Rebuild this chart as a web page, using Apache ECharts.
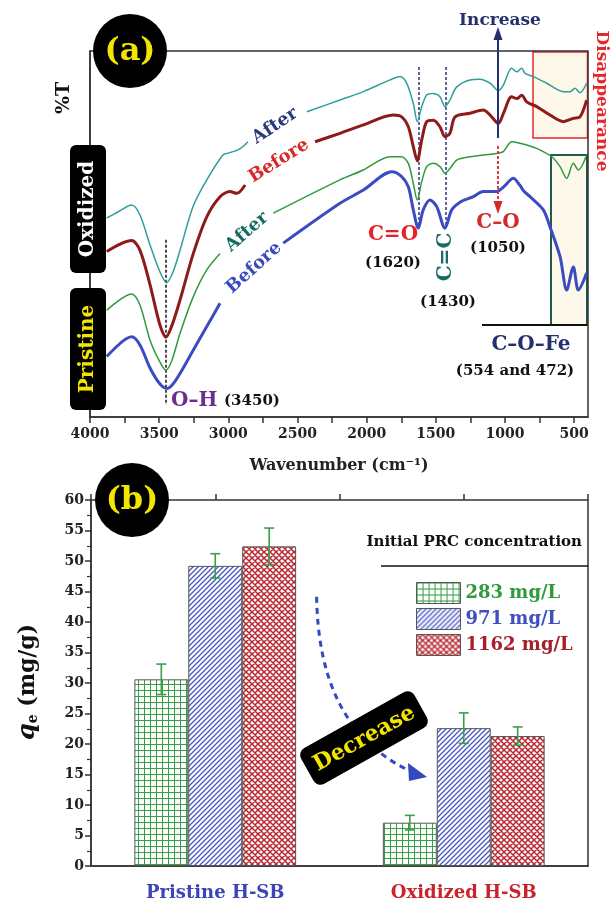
<!DOCTYPE html>
<html>
<head>
<meta charset="utf-8">
<script src="https://cdn.jsdelivr.net/npm/echarts@6/dist/echarts.min.js"></script>
<style>
  html, body { margin: 0; padding: 0; background: #fff; }
  #chart { width: 613px; height: 904px; }
</style>
</head>
<body>
<div id="chart"></div>
<script>
// ---------- (a) FTIR spectra: wavenumber (cm-1) and offset %T ----------
// null marks the break left in each trace for its inline label
const oxAfterWn = [3879,3798,3699,3639,3566,3494,3446,3400,3349,3255,3156,3039,3002,2966,2930,2894,2858,2650,2433,2193,2024,1831,1759,1711,1663,1634,1602,1566,1518,1470,1434,1398,1349,1253,1181,1108,1048,1012,952,915,879,855,795,699,578,530,494,458,410];
const oxAfterT  = [54.4,56.0,57.9,55.2,47.0,39.6,36.7,39.6,45.6,57.5,64.8,71.6,72.1,72.5,73.0,73.9,75.2,null,83.4,86.6,88.9,92.1,93.0,91.2,85.7,80.7,84.8,88.0,88.4,87.5,84.8,86.6,90.2,92.1,92.3,91.2,89.2,90.7,95.3,94.3,95.3,93.9,93.0,91.2,88.9,88.9,89.8,88.6,91.2];

const oxBeforeWn = [3879,3699,3639,3566,3494,3451,3407,3349,3253,3156,3060,2988,2939,2879,2620,2373,2193,2024,1807,1747,1699,1663,1634,1602,1566,1518,1470,1434,1398,1361,1253,1157,1108,1048,1012,952,915,879,843,771,675,578,506,458,410];
const oxBeforeT  = [45.2,48.2,45.6,36.1,25.1,21.8,25.1,32.0,44.7,54.7,60.2,61.6,61.1,63.4,null,75.2,77.5,79.8,82.5,82.0,79.3,73.9,70.0,75.7,80.7,81.1,79.3,76.6,77.5,82.0,83.0,83.9,82.5,80.2,82.9,87.5,87.0,87.9,86.1,84.8,82.5,80.7,81.6,82.0,86.6];

const prAfterWn = [3879,3699,3639,3566,3494,3451,3407,3349,3253,3156,3060,2870,2675,2193,2024,1831,1747,1699,1663,1634,1602,1566,1518,1470,1434,1398,1349,1253,1060,1012,952,892,843,771,662,602,554,506,470,410];
const prAfterT  = [29.2,33.6,30.6,21.0,15.0,12.8,15.6,22.9,32.9,40.2,44.7,null,55.7,64.8,67.5,71.1,71.1,69.3,63.8,59.3,64.3,68.4,69.3,68.4,66.6,67.9,70.2,71.1,72.0,72.5,75.2,74.8,74.3,73.4,71.1,68.4,65.2,69.3,67.5,71.6];

const prBeforeWn = [3879,3699,3639,3566,3494,3441,3400,3349,3253,3156,3060,2830,2603,2193,2024,1819,1747,1699,1663,1627,1591,1542,1494,1434,1385,1325,1229,1157,1060,1012,940,892,868,819,723,675,602,554,506,470,410];
const prBeforeT  = [16.5,21.9,19.7,13.4,9.0,7.8,9.0,11.9,18.3,24.7,31.1,null,47.5,58.4,62.0,67.0,65.7,62.9,56.6,51.6,56.6,59.3,57.5,51.6,56.6,58.7,60.2,61.6,61.6,62.8,65.2,63.3,61.9,60.2,56.6,52.0,43.8,34.7,41.0,34.7,39.3];

const wnTickValues  = [500,750,1000,1250,1500,1750,2000,2250,2500,2750,3000,3250,3500,3750,4000];
const wnLabelValues = [500,1000,1500,2000,2500,3000,3500,4000];

// ---------- (b) adsorption capacity qe (mg/g) ----------
const sampleNames = ['Pristine H-SB', 'Oxidized H-SB'];
const concNames   = ['283 mg/L', '971 mg/L', '1162 mg/L'];
const qe283  = [30.6, 7.1];
const qe971  = [49.2, 22.6];
const qe1162 = [52.4, 21.3];
const err283  = [2.5, 1.2];
const err971  = [2.0, 2.5];
const err1162 = [3.0, 1.5];

// ---------- styling ----------
const SERIF = '"DejaVu Serif", "Liberation Serif", serif';
const BAR_FRAC = 0.217;

function pairUp(xs, ys) {
  return xs.map((x, i) => [x, ys[i] === null ? '-' : ys[i]]);
}

function makePattern(kind) {
  const c = document.createElement('canvas');
  const ctx = c.getContext('2d');
  let s;
  if (kind === 'grid') {
    s = 6; c.width = c.height = s;
    ctx.fillStyle = '#fff'; ctx.fillRect(0, 0, s, s);
    ctx.strokeStyle = '#34a043'; ctx.lineWidth = 1;
    ctx.beginPath();
    ctx.moveTo(0.5, 0); ctx.lineTo(0.5, s);
    ctx.moveTo(0, 0.5); ctx.lineTo(s, 0.5);
    ctx.stroke();
  } else if (kind === 'diag') {
    s = 5; c.width = c.height = s;
    ctx.fillStyle = '#fff'; ctx.fillRect(0, 0, s, s);
    ctx.strokeStyle = '#4656c4'; ctx.lineWidth = 1.3;
    ctx.beginPath();
    ctx.moveTo(0, s); ctx.lineTo(s, 0);
    ctx.moveTo(-1, 1); ctx.lineTo(1, -1);
    ctx.moveTo(s - 1, s + 1); ctx.lineTo(s + 1, s - 1);
    ctx.stroke();
  } else {
    s = 6; c.width = c.height = s;
    ctx.fillStyle = '#fff'; ctx.fillRect(0, 0, s, s);
    ctx.strokeStyle = '#b8262f'; ctx.lineWidth = 1.5;
    ctx.beginPath();
    ctx.moveTo(0, s); ctx.lineTo(s, 0);
    ctx.moveTo(-1, 1); ctx.lineTo(1, -1);
    ctx.moveTo(s - 1, s + 1); ctx.lineTo(s + 1, s - 1);
    ctx.moveTo(0, 0); ctx.lineTo(s, s);
    ctx.moveTo(-1, s - 1); ctx.lineTo(1, s + 1);
    ctx.moveTo(s - 1, -1); ctx.lineTo(s + 1, 1);
    ctx.stroke();
  }
  return { image: c, repeat: 'repeat' };
}

const patterns = [makePattern('grid'), makePattern('diag'), makePattern('cross')];
const legendColors = ['#2f9a3e', '#3f4fbf', '#a5202a'];

function txt(x, y, text, color, size, rotDeg, extra) {
  return Object.assign({
    type: 'text', x: x, y: y, z: 100,
    rotation: (rotDeg || 0) * Math.PI / 180,
    style: Object.assign({
      text: text, fill: color, fontSize: size, fontWeight: 'bold', fontFamily: SERIF,
      align: 'center', verticalAlign: 'middle'
    }, extra || {})
  });
}

function lineEl(x1, y1, x2, y2, color, width, dash) {
  return {
    type: 'line', z: 90,
    shape: { x1: x1, y1: y1, x2: x2, y2: y2 },
    style: { stroke: color, lineWidth: width, lineDash: dash || null }
  };
}

function tri(points, color) {
  return { type: 'polygon', z: 90, shape: { points: points }, style: { fill: color } };
}

// error-bar data: [category index, series index, low, high]
const errData = [];
[[qe283, err283], [qe971, err971], [qe1162, err1162]].forEach((pair, k) => {
  pair[0].forEach((v, i) => errData.push([i, k, v - pair[1][i], v + pair[1][i]]));
});

const chart = echarts.init(document.getElementById('chart'), null, { renderer: 'canvas' });

const traceStyle = (name, wn, t, color, width) => ({
  name: name, type: 'line', xAxisIndex: 0, yAxisIndex: 0,
  data: pairUp(wn, t), showSymbol: false, smooth: 0.3, connectNulls: false,
  lineStyle: { color: color, width: width }, z: 5, silent: true
});

const option = {
  animation: false,
  backgroundColor: '#fff',
  grid: [
    { left: 90, top: 51, width: 498, height: 366, show: true, borderColor: '#333', borderWidth: 1.5, backgroundColor: 'transparent' },
    { left: 91, top: 500, width: 497, height: 366, show: true, borderColor: '#333', borderWidth: 1.5, backgroundColor: 'transparent' }
  ],
  xAxis: [
    {
      type: 'value', gridIndex: 0, min: 400, max: 4000, inverse: true,
      name: 'Wavenumber (cm⁻¹)', nameLocation: 'middle', nameGap: 41,
      nameTextStyle: { fontFamily: SERIF, fontWeight: 'bold', fontSize: 16, color: '#222' },
      axisLine: { show: true, lineStyle: { color: '#333', width: 1.5 } },
      axisTick: { show: true, length: 6, customValues: wnTickValues, lineStyle: { color: '#333', width: 1.5 } },
      axisLabel: {
        show: true, customValues: wnLabelValues, margin: 10,
        formatter: v => String(v),
        fontFamily: SERIF, fontWeight: 'bold', fontSize: 14, color: '#222'
      },
      splitLine: { show: false }
    },
    {
      type: 'category', gridIndex: 1,
      data: [
        { value: sampleNames[0], textStyle: { color: '#3b45b4' } },
        { value: sampleNames[1], textStyle: { color: '#c8242c' } }
      ],
      axisLine: { show: true, lineStyle: { color: '#333', width: 1.5 } },
      axisTick: { show: false },
      axisLabel: { margin: 18, fontFamily: SERIF, fontWeight: 'bold', fontSize: 18 },
      splitLine: { show: false }
    },
    {
      type: 'value', gridIndex: 1, min: 0, max: 4, interval: 1,
      axisLine: { show: false },
      axisTick: { show: true, length: 6, lineStyle: { color: '#333', width: 1.5 } },
      axisLabel: { show: false }, splitLine: { show: false }
    }
  ],
  yAxis: [
    {
      type: 'value', gridIndex: 0, min: 0, max: 100,
      axisLine: { show: true, lineStyle: { color: '#333', width: 1.5 } },
      axisTick: { show: false }, axisLabel: { show: false }, splitLine: { show: false }
    },
    {
      type: 'value', gridIndex: 1, min: 0, max: 60, interval: 5,
      axisLine: { show: true, lineStyle: { color: '#333', width: 1.5 } },
      axisTick: { show: true, length: 6, lineStyle: { color: '#333', width: 1.5 } },
      minorTick: { show: true, splitNumber: 2, length: 4, lineStyle: { color: '#333', width: 1.2 } },
      axisLabel: { margin: 7, fontFamily: SERIF, fontWeight: 'bold', fontSize: 14, color: '#222' },
      splitLine: { show: false }
    }
  ],
  legend: {
    orient: 'vertical', left: 411, top: 577, itemWidth: 44, itemHeight: 21, itemGap: 4,
    icon: 'rect', selectedMode: false,
    textStyle: { fontFamily: SERIF, fontWeight: 'bold', fontSize: 18 },
    itemStyle: { borderColor: '#555', borderWidth: 1 },
    data: concNames.map((n, i) => ({ name: n, textStyle: { color: legendColors[i] } }))
  },
  series: [
    traceStyle('Oxidized after', oxAfterWn, oxAfterT, '#2e9e9b', 1.5),
    traceStyle('Oxidized before', oxBeforeWn, oxBeforeT, '#8e1b1b', 3),
    traceStyle('Pristine after', prAfterWn, prAfterT, '#2e9a3c', 1.5),
    Object.assign(traceStyle('Pristine before', prBeforeWn, prBeforeT, '#3b4cc0', 3), {
      markLine: {
        silent: true, symbol: 'none', label: { show: false },
        data: [
          [{ coord: [3450, 48.4], lineStyle: { color: '#111', type: [3, 2], width: 1.5 } }, { coord: [3450, 3.3] }],
          [{ coord: [1620, 95.6], lineStyle: { color: '#2a3580', type: [3, 2], width: 1.5 } }, { coord: [1620, 51.6] }],
          [{ coord: [1430, 95.6], lineStyle: { color: '#2a3580', type: [3, 2], width: 1.5 } }, { coord: [1430, 51.6] }]
        ]
      }
    }),
    {
      name: concNames[0], type: 'bar', xAxisIndex: 1, yAxisIndex: 1, data: qe283,
      barWidth: (BAR_FRAC * 100) + '%', barGap: '0%',
      itemStyle: { color: patterns[0], borderColor: '#555', borderWidth: 1 }
    },
    {
      name: concNames[1], type: 'bar', xAxisIndex: 1, yAxisIndex: 1, data: qe971,
      barWidth: (BAR_FRAC * 100) + '%', barGap: '0%',
      itemStyle: { color: patterns[1], borderColor: '#555', borderWidth: 1 }
    },
    {
      name: concNames[2], type: 'bar', xAxisIndex: 1, yAxisIndex: 1, data: qe1162,
      barWidth: (BAR_FRAC * 100) + '%', barGap: '0%',
      itemStyle: { color: patterns[2], borderColor: '#555', borderWidth: 1 }
    },
    {
      name: 'error', type: 'custom', xAxisIndex: 1, yAxisIndex: 1, data: errData, z: 10, silent: true,
      renderItem: function (params, api) {
        const cat = api.value(0), k = api.value(1);
        const band = api.size([1, 0])[0];
        const off = (k - 1) * band * BAR_FRAC;
        const lo = api.coord([cat, api.value(2)]);
        const hi = api.coord([cat, api.value(3)]);
        const x = lo[0] + off, cap = 5;
        const st = { stroke: '#3b9e4a', lineWidth: 1.6 };
        return {
          type: 'group',
          children: [
            { type: 'line', shape: { x1: x, y1: lo[1], x2: x, y2: hi[1] }, style: st },
            { type: 'line', shape: { x1: x - cap, y1: lo[1], x2: x + cap, y2: lo[1] }, style: st },
            { type: 'line', shape: { x1: x - cap, y1: hi[1], x2: x + cap, y2: hi[1] }, style: st }
          ]
        };
      }
    }
  ],
  graphic: [
    // highlighted regions behind the spectra
    { type: 'rect', z: -10, shape: { x: 533, y: 52, width: 54.5, height: 86 }, style: { fill: '#fdf8e9', stroke: '#e8262a', lineWidth: 1.5 } },
    { type: 'rect', z: -10, shape: { x: 551, y: 155, width: 36, height: 170 }, style: { fill: '#fdf8e9', stroke: '#1f5c50', lineWidth: 2 } },
    lineEl(482, 325, 587, 325, '#111', 2),

    // panel badges
    { type: 'circle', z: 95, shape: { cx: 130, cy: 51, r: 37 }, style: { fill: '#000' } },
    txt(130, 52, '(a)', '#f2e600', 32),
    { type: 'circle', z: 95, shape: { cx: 132, cy: 500, r: 37 }, style: { fill: '#000' } },
    txt(132, 501, '(b)', '#f2e600', 32),

    // sample boxes
    { type: 'rect', z: 95, shape: { x: 70, y: 145, width: 36, height: 128, r: 6 }, style: { fill: '#000' } },
    txt(88, 209, 'Oxidized', '#fff', 20, 90),
    { type: 'rect', z: 95, shape: { x: 70, y: 288, width: 36, height: 122, r: 6 }, style: { fill: '#000' } },
    txt(88, 349, 'Pristine', '#f2e600', 20, 90),
    txt(64, 98, '%T', '#111', 19, 90),

    // trace labels
    txt(275, 126, 'After', '#283a7a', 18, 34),
    txt(279, 161, 'Before', '#d42a2a', 18, 32),
    txt(247, 232, 'After', '#146b60', 18, 41),
    txt(254, 268, 'Before', '#3a4bbf', 18, 42),

    // band assignments
    txt(171, 401, 'O–H', '#6b2d8f', 20, 0, { align: 'left' }),
    txt(224, 401, '(3450)', '#111', 15, 0, { align: 'left' }),
    txt(393, 235, 'C=O', '#e8202a', 20),
    txt(393, 263, '(1620)', '#111', 15),
    txt(446, 257, 'C=C', '#1a6b66', 20, 90),
    txt(448, 302, '(1430)', '#111', 15),
    txt(498, 223, 'C–O', '#d32a2a', 20),
    txt(498, 248, '(1050)', '#111', 15),
    txt(531, 345, 'C–O–Fe', '#24306e', 20),
    txt(515, 371, '(554 and 472)', '#111', 15),
    txt(601, 101, 'Disappearance', '#e8262a', 17, -90),

    // increase / decrease markers at 1050 cm-1
    lineEl(498, 138, 498, 38, '#24306e', 2),
    tri([[498, 27], [493.5, 40], [502.5, 40]], '#24306e'),
    txt(500, 21, 'Increase', '#24306e', 17),
    lineEl(498, 146, 498, 202, '#d8262b', 1.8, [3, 2]),
    tri([[498, 214], [493.5, 201], [502.5, 201]], '#d8262b'),

    // (b) annotations
    txt(582, 542, 'Initial PRC concentration', '#111', 15, 0, { align: 'right' }),
    lineEl(381, 566, 588, 566, '#111', 1.5),
    {
      type: 'text', x: 28, y: 682, z: 100, rotation: Math.PI / 2,
      style: {
        text: '{q|q}{e|e}{u| (mg/g)}', align: 'center', verticalAlign: 'middle', fill: '#111',
        rich: {
          q: { fontFamily: SERIF, fontWeight: 'bold', fontStyle: 'italic', fontSize: 24, fill: '#111' },
          e: { fontFamily: SERIF, fontWeight: 'bold', fontSize: 14, fill: '#111', padding: [10, 0, 0, 0] },
          u: { fontFamily: SERIF, fontWeight: 'bold', fontSize: 22, fill: '#111' }
        }
      }
    },
    {
      type: 'bezierCurve', z: 90,
      shape: { x1: 316.6, y1: 596.7, cpx1: 318, cpy1: 680, cpx2: 345, cpy2: 740, x2: 410, y2: 771 },
      style: { stroke: '#3349c0', lineWidth: 3, lineDash: [6, 5], fill: null }
    },
    tri([[427, 777], [408, 763], [409, 781]], '#3349c0'),
    {
      type: 'group', x: 364, y: 738, z: 100, rotation: 29.2 * Math.PI / 180,
      children: [
        { type: 'rect', z: 100, shape: { x: -65, y: -20.5, width: 130, height: 41, r: 8 }, style: { fill: '#000' } },
        { type: 'text', z: 101, x: 0, y: 1, style: { text: 'Decrease', fill: '#f2e600', fontSize: 22, fontWeight: 'bold', fontFamily: SERIF, align: 'center', verticalAlign: 'middle' } }
      ]
    }
  ]
};

chart.setOption(option);
</script>
</body>
</html>
